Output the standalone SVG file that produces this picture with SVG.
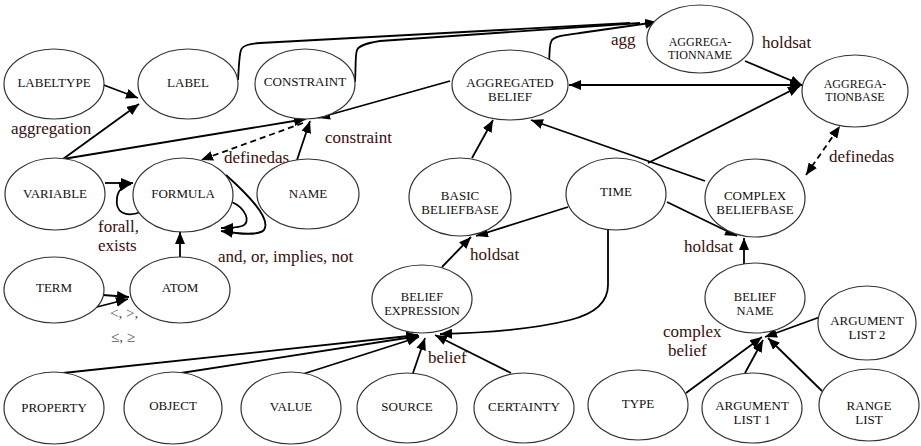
<svg xmlns="http://www.w3.org/2000/svg" width="921" height="446" viewBox="0 0 921 446" font-family="'Liberation Serif', 'DejaVu Serif', serif">
<style>
.n ellipse{fill:#fff;stroke:#333;stroke-width:1.2}
.n text{font-family:'Liberation Serif','DejaVu Serif',serif;font-size:13px;fill:#111;text-anchor:middle}
.n text.s{font-size:12px}
.n text.t{font-size:12.5px}
.e{fill:none;stroke:#000;stroke-width:1.8}
.a{marker-end:url(#ah)}
.d{stroke-dasharray:6,4}
.l{font-family:'Liberation Serif','DejaVu Serif',serif;font-size:17px;fill:#3a0e0e}
.m{font-family:'Liberation Serif','DejaVu Serif',serif;font-size:15px;fill:#555}
</style>
<defs>
<marker id="ah" viewBox="0 0 12 10" refX="12" refY="5" markerWidth="12" markerHeight="10" markerUnits="userSpaceOnUse" orient="auto-start-reverse">
<path d="M0,0 L12,5 L0,10 z" fill="#000"/>
</marker>
</defs>
<rect width="921" height="446" fill="#fff"/>
<g id="connectors">
<path class="e a" d="M101,84 L138,98"/>
<path class="e a" d="M63,159 L139,104"/>
<path class="e a" d="M63,159 L306,119"/>
<path class="e a" d="M450,81 L318,118"/>
<path class="e a" d="M297,160 L310,121"/>
<path class="e d a" d="M303,123 L201,160"/>
<path class="e" d="M238,80 C239,66 239,56 241,50 C243,45 250,44 260,43 L630,23"/>
<path class="e" d="M355,82 C356,66 355,56 357,50 C359,45 368,43 380,41 L640,23"/>
<path class="e a" d="M549,62 C550,50 549,44 552,40 C556,36 565,35 580,33 L657,22"/>
<path class="e a" d="M802,85 L569,85" marker-start="url(#ah)"/>
<path class="e a" d="M745,61 L802,85"/>
<path class="e a" d="M648,163 L800,86"/>
<path class="e a" d="M705,181 L531,120"/>
<path class="e a" d="M472,158 L493,120"/>
<path class="e a" d="M568,207 L476,236"/>
<path class="e a" d="M442,267 L471,237"/>
<path class="e a" d="M667,202 L737,236"/>
<path class="e a" d="M744,265 L744,238"/>
<path class="e a" d="M608,230 L608,285 C608,305 590,315 570,320 C530,330 480,333 440,334"/>
<path class="e a" d="M63,373 L418,335"/>
<path class="e a" d="M181,373 L419,336"/>
<path class="e a" d="M303,374 L419,337"/>
<path class="e a" d="M413,373 L425,338"/>
<path class="e a" d="M511,373 L435,335"/>
<path class="e a" d="M686,393 L762,337"/>
<path class="e a" d="M745,373 L763,340"/>
<path class="e a" d="M822,391 L768,338"/>
<path class="e a" d="M820,317 L765,337"/>
<path class="e d a" d="M806,175 L840,126" marker-start="url(#ah)"/>
<path class="e a" d="M105,183 L133,183"/>
<path class="e a" d="M141,212 C125,218 115,212 117,198 C118,190 122,186 131,184"/>
<path class="e a" d="M226,175 C245,192 272,218 264,230 C258,236 240,234 221,231"/>
<path class="e a" d="M232,202 C245,208 252,222 242,226 C236,228 229,228 221,228"/>
<path class="e a" d="M180,257 L180,232"/>
<path class="e a" d="M103,295 L129,297"/>
<path class="e a" d="M93,308 L128,299"/>
<text class="l" x="11" y="134">aggregation</text>
<text class="l" x="224" y="163">definedas</text>
<text class="l" x="325" y="143">constraint</text>
<text class="l" x="98" y="232">forall,</text>
<text class="l" x="98" y="251">exists</text>
<text class="l" x="218" y="262">and, or, implies, not</text>
<text class="m" x="110" y="318">&lt;, &gt;,</text>
<text class="m" x="111" y="342">≤, ≥</text>
<text class="l" x="470" y="260">holdsat</text>
<text class="l" x="428" y="363">belief</text>
<text class="l" x="611" y="45">agg</text>
<text class="l" x="762" y="48">holdsat</text>
<text class="l" x="829" y="162">definedas</text>
<text class="l" x="684" y="252">holdsat</text>
<text class="l" x="663" y="337">complex</text>
<text class="l" x="668" y="356">belief</text>
</g>
<g id="labeltype" class="n"><ellipse cx="54" cy="84" rx="50" ry="35"/><text x="54" y="87">LABELTYPE</text></g>
<g id="label" class="n"><ellipse cx="188" cy="84" rx="50" ry="35"/><text x="188" y="87">LABEL</text></g>
<g id="constraint" class="n"><ellipse cx="305" cy="84" rx="50" ry="35"/><text x="305" y="86">CONSTRAINT</text></g>
<g id="aggregatedbelief" class="n"><ellipse cx="510" cy="85" rx="58" ry="35"/><text x="510" y="87">AGGREGATED</text><text x="510" y="101">BELIEF</text></g>
<g id="aggregationname" class="n"><ellipse cx="700" cy="39" rx="53" ry="34"/><text class="s" x="700" y="46">AGGREGA-</text><text class="s" x="700" y="59">TIONNAME</text></g>
<g id="aggregationbase" class="n"><ellipse cx="855" cy="91" rx="53" ry="36"/><text class="s" x="855" y="88">AGGREGA-</text><text class="s" x="855" y="101">TIONBASE</text></g>
<g id="variable" class="n"><ellipse cx="55" cy="194" rx="50" ry="36"/><text x="55" y="198">VARIABLE</text></g>
<g id="formula" class="n"><ellipse cx="183" cy="195" rx="50" ry="37"/><text x="183" y="198">FORMULA</text></g>
<g id="name" class="n"><ellipse cx="308" cy="194" rx="51" ry="35"/><text x="308" y="198">NAME</text></g>
<g id="basicbeliefbase" class="n"><ellipse cx="460" cy="197" rx="51" ry="39"/><text x="460" y="200">BASIC</text><text x="460" y="214">BELIEFBASE</text></g>
<g id="time" class="n"><ellipse cx="616" cy="194" rx="50" ry="36"/><text x="616" y="196">TIME</text></g>
<g id="complexbeliefbase" class="n"><ellipse cx="755" cy="198" rx="50" ry="39"/><text x="755" y="200">COMPLEX</text><text x="755" y="214">BELIEFBASE</text></g>
<g id="term" class="n"><ellipse cx="54" cy="290" rx="50" ry="33"/><text x="54" y="292">TERM</text></g>
<g id="atom" class="n"><ellipse cx="180" cy="290" rx="50" ry="33"/><text x="180" y="292">ATOM</text></g>
<g id="beliefexpression" class="n"><ellipse cx="422" cy="299" rx="50" ry="34"/><text class="t" x="422" y="301">BELIEF</text><text class="t" x="422" y="315">EXPRESSION</text></g>
<g id="beliefname" class="n"><ellipse cx="755" cy="298" rx="50" ry="35"/><text class="t" x="755" y="301">BELIEF</text><text class="t" x="755" y="315">NAME</text></g>
<g id="argumentlist2" class="n"><ellipse cx="867" cy="323" rx="49" ry="37"/><text x="867" y="325">ARGUMENT</text><text x="867" y="339">LIST 2</text></g>
<g id="property" class="n"><ellipse cx="54" cy="408" rx="50" ry="36"/><text x="54" y="412">PROPERTY</text></g>
<g id="object" class="n"><ellipse cx="173" cy="408" rx="49" ry="36"/><text x="173" y="410">OBJECT</text></g>
<g id="value" class="n"><ellipse cx="291" cy="408" rx="50" ry="36"/><text x="291" y="411">VALUE</text></g>
<g id="source" class="n"><ellipse cx="407" cy="408" rx="50" ry="35"/><text x="407" y="411">SOURCE</text></g>
<g id="certainty" class="n"><ellipse cx="524" cy="408" rx="50" ry="35"/><text x="524" y="411">CERTAINTY</text></g>
<g id="type" class="n"><ellipse cx="638" cy="405" rx="50" ry="35"/><text x="638" y="408">TYPE</text></g>
<g id="argumentlist1" class="n"><ellipse cx="752" cy="408" rx="50" ry="35"/><text x="752" y="410">ARGUMENT</text><text x="752" y="424">LIST 1</text></g>
<g id="rangelist" class="n"><ellipse cx="869" cy="405" rx="50" ry="36"/><text x="869" y="410">RANGE</text><text x="869" y="424">LIST</text></g>
</svg>
